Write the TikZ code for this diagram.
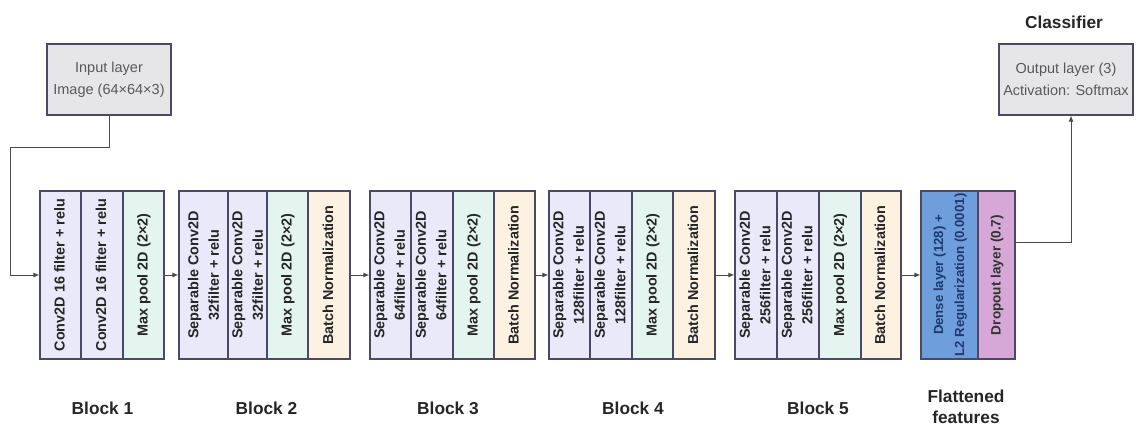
\documentclass[tikz,border=0pt]{standalone}
\usepackage{fontspec}
\setmainfont{Liberation Sans}
\usetikzlibrary{arrows.meta}
\definecolor{convfill}{HTML}{E9E9FA}
\definecolor{poolfill}{HTML}{E4F5EF}
\definecolor{normfill}{HTML}{FDF2E2}
\definecolor{densefill}{HTML}{6E9EDC}
\definecolor{dropfill}{HTML}{D6A8D8}
\definecolor{iofill}{HTML}{E6E6E8}
\definecolor{boxline}{HTML}{4A4A66}
\definecolor{linkline}{HTML}{4A4A4A}
\definecolor{densetext}{HTML}{1E3A70}
\newcommand{\vlabel}[1]{\rotatebox{90}{\begin{tabular}{@{}c@{}}#1\end{tabular}}}
\tikzset{
  layer/.style={draw=boxline, line width=1.1pt, inner sep=0pt, minimum height=168pt,
    font=\fontsize{14.4}{20.5}\selectfont\bfseries, text=black!85},
  conv/.style={layer, fill=convfill},
  pool/.style={layer, fill=poolfill},
  norm/.style={layer, fill=normfill},
  densebox/.style={layer, fill=densefill, text=densetext, font=\fontsize{13.2}{21}\selectfont\bfseries},
  dropbox/.style={layer, fill=dropfill, text=black!80, font=\fontsize{13.6}{20}\selectfont\bfseries},
  iobox/.style={draw=boxline, line width=1.1pt, fill=iofill, inner sep=0pt, align=center,
    minimum height=71pt, font=\fontsize{14.5}{22}\selectfont, text=black!65},
  caption/.style={font=\fontsize{17.3}{20.5}\selectfont\bfseries, align=center, text=black!85},
  link/.style={draw=linkline, line width=1pt, -{Latex[length=6pt,width=5pt]}},
}
\begin{document}
\begin{tikzpicture}[x=1pt,y=-1pt]
\useasboundingbox (0,0) rectangle (1136,428);

% input and output layers
\node[iobox, minimum width=124pt] (inp) at (109,79.5) {Input layer\\Image (64×64×3)};
\node[iobox, minimum width=134pt] (out) at (1066,79.5) {Output layer (3)\\Activation: Softmax};
\node[caption] (cls) at (1064,22) {Classifier};

% block 1
\node[conv, minimum width=41pt] (b1a) at (60.5,275) {\vlabel{Conv2D 16 filter + relu}};
\node[conv, minimum width=42pt] (b1b) at (102,275) {\vlabel{Conv2D 16 filter + relu}};
\node[pool, minimum width=41pt] (b1p) at (143.5,275) {\vlabel{Max pool 2D (2×2)}};

% block 2
\node[conv, minimum width=51pt] (b2a) at (204.5,275) {\vlabel{Separable Conv2D\\32filter + relu}};
\node[conv, minimum width=37pt] (b2b) at (248.5,275) {\vlabel{Separable Conv2D\\32filter + relu}};
\node[pool, minimum width=41pt] (b2p) at (287.5,275) {\vlabel{Max pool 2D (2×2)}};
\node[norm, minimum width=42pt] (b2n) at (329,275) {\vlabel{Batch Normalization}};

% block 3
\node[conv, minimum width=41pt] (b3a) at (390.5,275) {\vlabel{Separable Conv2D\\64filter + relu}};
\node[conv, minimum width=42pt] (b3b) at (432,275) {\vlabel{Separable Conv2D\\64filter + relu}};
\node[pool, minimum width=41pt] (b3p) at (473.5,275) {\vlabel{Max pool 2D (2×2)}};
\node[norm, minimum width=41pt] (b3n) at (514.5,275) {\vlabel{Batch Normalization}};

% block 4
\node[conv, minimum width=41pt] (b4a) at (569.5,275) {\vlabel{Separable Conv2D\\128filter + relu}};
\node[conv, minimum width=42pt] (b4b) at (611,275) {\vlabel{Separable Conv2D\\128filter + relu}};
\node[pool, minimum width=41pt] (b4p) at (652.5,275) {\vlabel{Max pool 2D (2×2)}};
\node[norm, minimum width=42pt] (b4n) at (694,275) {\vlabel{Batch Normalization}};

% block 5
\node[conv, minimum width=42pt] (b5a) at (756,275) {\vlabel{Separable Conv2D\\256filter + relu}};
\node[conv, minimum width=42pt] (b5b) at (798,275) {\vlabel{Separable Conv2D\\256filter + relu}};
\node[pool, minimum width=42pt] (b5p) at (840,275) {\vlabel{Max pool 2D (2×2)}};
\node[norm, minimum width=40pt] (b5n) at (881,275) {\vlabel{Batch Normalization}};

% flattened features
\node[densebox, minimum width=57pt] (fd) at (949.5,275) {\vlabel{Dense layer (128) +\\L2 Regularization (0.0001)}};
\node[dropbox, minimum width=37pt] (fo) at (996.5,275) {\vlabel{Dropout layer (0.7)}};

% captions
\node[caption] (c1) at (102.5,408) {Block 1};
\node[caption] (c2) at (266.5,408) {Block 2};
\node[caption] (c3) at (448,408) {Block 3};
\node[caption] (c4) at (633,408) {Block 4};
\node[caption] (c5) at (818,408) {Block 5};
\node[caption] (c6) at (966,407) {Flattened\\features};

% connectors
\coordinate (k1) at (10,147);
\draw[link] (inp.south) |- (k1) |- (b1a.west);
\draw[link] (b1p.east) -- (b2a.west);
\draw[link] (b2n.east) -- (b3a.west);
\draw[link] (b3n.east) -- (b4a.west);
\draw[link] (b4n.east) -- (b5a.west);
\draw[link] (b5n.east) -- (fd.west);
\coordinate (k2) at (1071,242);
\draw[link] (fo.east |- k2) -- (k2) -- (k2 |- out.south);
\end{tikzpicture}
\end{document}
